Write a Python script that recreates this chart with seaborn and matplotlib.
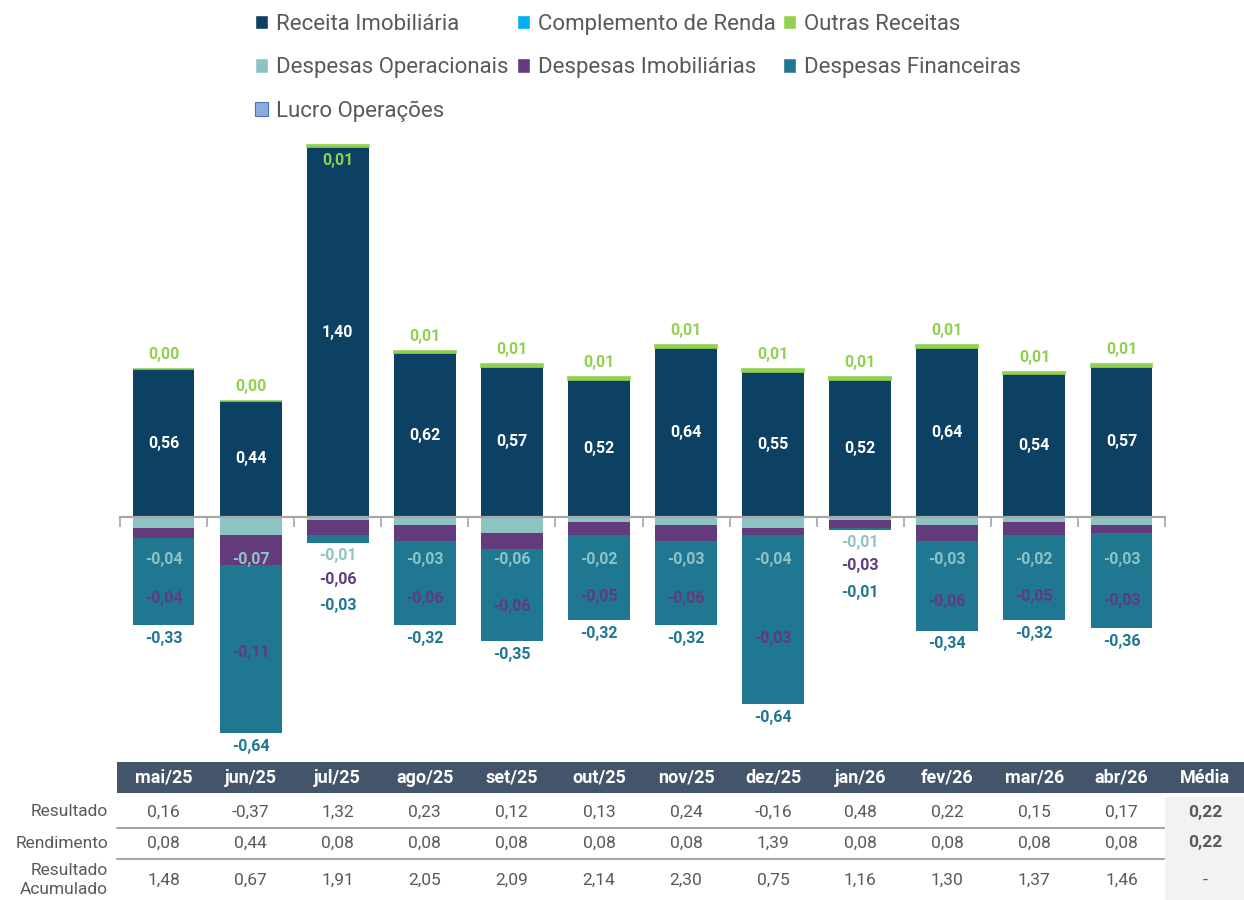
#!/usr/bin/env python3

import numpy as np
import pandas as pd
import matplotlib
matplotlib.use("Agg")
import matplotlib.pyplot as plt
from matplotlib.patches import Patch, Rectangle
import seaborn as sns

# --- data ---
months = ["mai/25", "jun/25", "jul/25", "ago/25", "set/25", "out/25",
          "nov/25", "dez/25", "jan/26", "fev/26", "mar/26", "abr/26"]
receita_imob = [0.56, 0.44, 1.40, 0.62, 0.57, 0.52, 0.64, 0.55, 0.52, 0.64, 0.54, 0.57]
complemento = [0.00] * 12
outras_receitas = [0.00, 0.00, 0.01, 0.01, 0.01, 0.01, 0.01, 0.01, 0.01, 0.01, 0.01, 0.01]
desp_operacionais = [-0.04, -0.07, -0.01, -0.03, -0.06, -0.02, -0.03, -0.04, -0.01, -0.03, -0.02, -0.03]
desp_imobiliarias = [-0.04, -0.11, -0.06, -0.06, -0.06, -0.05, -0.06, -0.03, -0.03, -0.06, -0.05, -0.03]
desp_financeiras = [-0.33, -0.64, -0.03, -0.32, -0.35, -0.32, -0.32, -0.64, -0.01, -0.34, -0.32, -0.36]

row_labels = ["Resultado", "Rendimento", "Resultado\nAcumulado"]
resultado = [0.16, -0.37, 1.32, 0.23, 0.12, 0.13, 0.24, -0.16, 0.48, 0.22, 0.15, 0.17]
rendimento = [0.08, 0.44, 0.08, 0.08, 0.08, 0.08, 0.08, 1.39, 0.08, 0.08, 0.08, 0.08]
resultado_acum = [1.48, 0.67, 1.91, 2.05, 2.09, 2.14, 2.30, 0.75, 1.16, 1.30, 1.37, 1.46]
media = [0.22, 0.22, None]

C_REC = "#0c4163"
C_COMP = "#00b0f0"
C_OUT = "#92d050"
C_OP = "#8ec3c3"
C_IMOB = "#633b7c"
C_FIN = "#1f7792"
C_LUCRO = "#8faadc"
C_TXT = "#595959"

FONT = ["Roboto", "DejaVu Sans"]


def fmt(v):
    return f"{v:.2f}".replace(".", ",")


sns.set_theme(style="white")
plt.rcParams["font.family"] = FONT

W, H = 1244, 900
fig = plt.figure(figsize=(W / 100, H / 100), dpi=100)

# chart axes: x 120..1165 px, y 135..755 px, zero line at 517 px, 264 px per unit
ax_l, ax_r, ax_t, ax_b = 120, 1165, 135, 755
zero_px, ppu = 517, 264
ax = fig.add_axes([ax_l / W, 1 - ax_b / H, (ax_r - ax_l) / W, (ax_b - ax_t) / H])

df = pd.DataFrame({
    "mes": months,
    "receita": receita_imob,
    "outras": outras_receitas,
    "op": desp_operacionais,
    "imob": desp_imobiliarias,
    "fin": desp_financeiras,
})
df["pos_total"] = df["receita"] + df["outras"]
df["neg_op_imob"] = df["op"] + df["imob"]
df["neg_total"] = df["neg_op_imob"] + df["fin"]

bw = 0.71
bar = dict(x="mes", width=bw, saturation=1, ax=ax)
sns.barplot(data=df, y="receita", color=C_REC, linewidth=0, **bar)
# thin green segment stacked on top (edge keeps the 0,00 ones visible)
sns.barplot(data=df, y="outras", bottom=df["receita"].values, color=C_OUT,
            edgecolor=C_OUT, linewidth=1.2, **bar)
# negative side as layered cumulative bars
sns.barplot(data=df, y="neg_total", color=C_FIN, linewidth=0, **bar)
sns.barplot(data=df, y="neg_op_imob", color=C_IMOB, linewidth=0, **bar)
sns.barplot(data=df, y="op", color=C_OP, linewidth=0, **bar)

n = len(months)
ax.set_xlim(-0.5, n - 0.5)
ax.set_ylim(-(ax_b - zero_px) / ppu, (zero_px - ax_t) / ppu)
for s in ["top", "right", "left"]:
    ax.spines[s].set_visible(False)
ax.spines["bottom"].set_position(("data", 0))
ax.spines["bottom"].set_color("#a6a6a6")
ax.spines["bottom"].set_linewidth(1.6)
ax.set_xticks(np.arange(-0.5, n, 1.0))
ax.set_xticklabels([])
ax.tick_params(axis="x", bottom=True, direction="out", length=7, width=1.2, color="#a6a6a6")
ax.set_yticks([])
ax.set_xlabel("")
ax.set_ylabel("")
ax.patch.set_alpha(0)

lab = dict(ha="center", va="center", fontsize=11.5, fontweight="bold")
for i, r in df.iterrows():
    # positive side
    ax.text(i, r["receita"] / 2, fmt(r["receita"]), color="white", **lab)
    top = r["pos_total"]
    if top > 1.3:
        ax.text(i, top - 0.06, fmt(r["outras"]), color=C_OUT, **lab)
    else:
        ax.text(i, top + 0.055, fmt(r["outras"]), color=C_OUT, **lab)
    # negative side
    bottom = r["neg_total"]
    if bottom > -0.2:
        y_op, y_im, y_fin = bottom - 0.045, bottom - 0.135, bottom - 0.235
    else:
        y_op = -0.16
        y_fin = bottom - 0.05
        y_im = (y_op + y_fin) / 2
    ax.text(i, y_op, fmt(r["op"]), color=C_OP, **lab)
    ax.text(i, y_im, fmt(r["imob"]), color=C_IMOB, **lab)
    ax.text(i, y_fin, fmt(r["fin"]), color=C_FIN, **lab)

# legend, row-major order in 3 columns
handles = [
    Patch(facecolor=C_REC, label="Receita Imobiliária"),
    Patch(facecolor=C_OP, label="Despesas Operacionais"),
    Patch(facecolor=C_LUCRO, edgecolor="#4472c4", linewidth=0.8, label="Lucro Operações"),
    Patch(facecolor=C_COMP, label="Complemento de Renda"),
    Patch(facecolor=C_IMOB, label="Despesas Imobiliárias"),
    Patch(facecolor=C_OUT, label="Outras Receitas"),
    Patch(facecolor=C_FIN, label="Despesas Financeiras"),
]
fig.legend(handles=handles, ncol=3, loc="upper left",
           bbox_to_anchor=(244 / W, 1 - 3 / H), frameon=False,
           prop={"size": 16}, labelcolor=C_TXT,
           handlelength=0.6, handleheight=0.6, handletextpad=0.35,
           columnspacing=0.35, labelspacing=1.0, borderpad=0)

# --- table below the chart, in pixel coordinates ---
tax = fig.add_axes([0, 0, 1, 145 / H])
tax.set_xlim(0, W)
tax.set_ylim(900, 755)
tax.axis("off")

col_w = (ax_r - ax_l) / n
col_x = [ax_l + (i + 0.5) * col_w for i in range(n)] + [1205]
header = months + ["Média"]

tax.add_patch(Rectangle((117, 762), W - 117, 31, facecolor="#44546a", edgecolor="none"))
tax.add_patch(Rectangle((1165, 797), W - 1165, 103, facecolor="#f2f2f2", edgecolor="none"))
for x, h in zip(col_x, header):
    tax.text(x, 778, h, ha="center", va="center", color="white",
             fontsize=13, fontweight="bold")

rows = [resultado, rendimento, resultado_acum]
row_y = [812, 843, 880]
for lbl, vals, m, y in zip(row_labels, rows, media, row_y):
    tax.text(108, y, lbl, ha="right", va="center", color=C_TXT, fontsize=12.5,
             multialignment="right", linespacing=1.3)
    for x, v in zip(col_x, vals):
        tax.text(x, y, fmt(v), ha="center", va="center", color=C_TXT, fontsize=12.5)
    tax.text(col_x[-1], y, fmt(m) if m is not None else "-", ha="center", va="center",
             color=C_TXT, fontsize=12.5, fontweight="bold" if m is not None else "normal")
for y in [827.5, 858.5]:
    tax.plot([117, 1164], [y, y], color="#a6a6a6", linewidth=1.5)

fig.savefig("out.png", dpi=100)
